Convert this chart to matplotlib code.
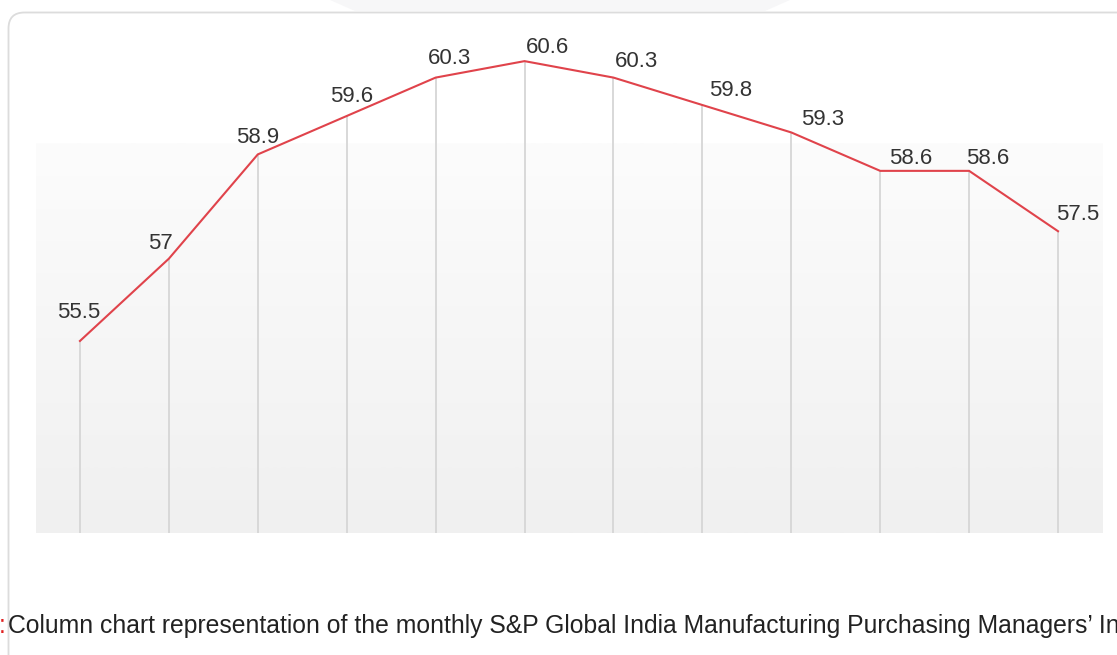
import numpy as np
import matplotlib
matplotlib.use("Agg")
import matplotlib.pyplot as plt
from matplotlib.patches import FancyBboxPatch, Polygon

# Monthly S&P Global India Manufacturing PMI readings
months = ["M1", "M2", "M3", "M4", "M5", "M6", "M7", "M8", "M9", "M10", "M11", "M12"]
pmi = [55.5, 57.0, 58.9, 59.6, 60.3, 60.6, 60.3, 59.8, 59.3, 58.6, 58.6, 57.5]
value_labels = ["55.5", "57", "58.9", "59.6", "60.3", "60.6", "60.3", "59.8", "59.3", "58.6", "58.6", "57.5"]

# label nudges (pixels) so each value sits clear of the line
label_dx = [-1, -8, 0, 5, 14, 23, 23, 28, 31, 30, 19, 20]
label_dy = [28, 15, 17, 19, 19, 14, 16, 15, 13, 12, 12, 17]

caption = "Column chart representation of the monthly S&P Global India Manufacturing Purchasing Managers\u2019 Index"

W, H = 1117, 655
fig = plt.figure(figsize=(W / 100, H / 100), dpi=100)
fig.patch.set_facecolor("white")

# page decoration layer in pixel coordinates (origin top-left)
deco = fig.add_axes([0, 0, 1, 1], zorder=0)
deco.set_xlim(0, W)
deco.set_ylim(H, 0)
deco.axis("off")
deco.add_patch(Polygon([(330, 0), (790, 0), (765, 11), (355, 11)], closed=True,
                       facecolor="#f7f7f8", edgecolor="none"))
deco.add_patch(FancyBboxPatch((8.5, 12.5), 1300, 800,
                              boxstyle="round,pad=0,rounding_size=16",
                              facecolor="none", edgecolor="#dcdcdc", linewidth=1.3))

left_px, right_px = 35.5, 1102.5
top_px, bottom_px = 20, 533
ax = fig.add_axes([left_px / W, (H - bottom_px) / H,
                   (right_px - left_px) / W, (bottom_px - top_px) / H], zorder=1)
ax.set_facecolor("none")
x = np.arange(len(months))
ymin = 52.0
ymax = 60.6 + (61 - top_px) / 54.7
ax.set_xlim(-0.5, len(months) - 0.5)
ax.set_ylim(ymin, ymax)

# soft vertical gradient behind the lower part of the plot
grad_top = (bottom_px - 143) / (bottom_px - top_px)
grad = np.linspace(0, 1, 256).reshape(-1, 1)
c_top = np.array([252, 252, 252]) / 255
c_bot = np.array([240, 240, 240]) / 255
img = c_bot[None, None, :] * (1 - grad[:, :, None]) + c_top[None, None, :] * grad[:, :, None]
ax.imshow(img, extent=(0, 1, 0, grad_top), transform=ax.transAxes,
          aspect="auto", origin="lower", zorder=0)

# drop lines from each point to the base
ax.vlines(x, ymin, pmi, colors="#d6d6d6", linewidth=1.3, zorder=1)
ax.plot(x, pmi, color="#e0434b", linewidth=1.5, zorder=3, solid_joinstyle="miter")

for xi, yi, txt, dx, dy in zip(x, pmi, value_labels, label_dx, label_dy):
    ax.annotate(txt, (xi, yi), xytext=(dx * 0.72, dy * 0.72), textcoords="offset points",
                ha="center", va="center", fontsize=16, color="#333333",
                family="Liberation Sans", zorder=4, annotation_clip=False)

for s in ax.spines.values():
    s.set_visible(False)
ax.set_xticks([])
ax.set_yticks([])

# caption under the card
fig.text(-1 / W, 1 - 633 / H, ":", color="#e02020", fontsize=17.8,
         family="Liberation Sans", ha="left", va="baseline")
fig.text(8 / W, 1 - 633 / H, caption, color="#222222", fontsize=17.8,
         family="Liberation Sans", ha="left", va="baseline")

fig.savefig("out.png", dpi=100, facecolor="white")
